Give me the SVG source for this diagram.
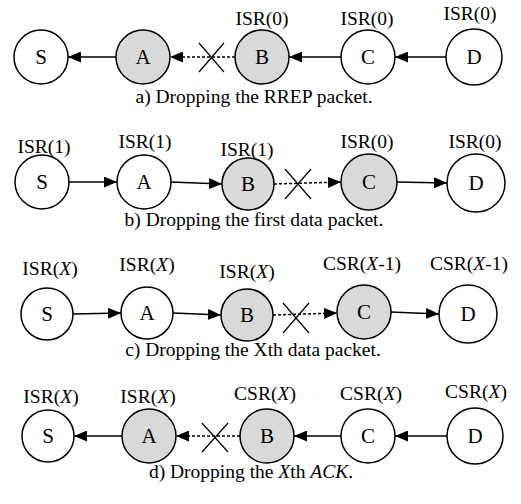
<svg xmlns="http://www.w3.org/2000/svg" width="521" height="504" viewBox="0 0 521 504">
<defs>
<marker id="ah" viewBox="0 0 13 11" refX="13" refY="5.5" markerWidth="13" markerHeight="11" markerUnits="userSpaceOnUse" orient="auto">
<path d="M0,0 L13,5.5 L0,11 z" fill="#000"/>
</marker>
</defs>
<style>
.n{fill:#fff;stroke:#000;stroke-width:1.5}
.g{fill:#d9d9d9;stroke:#000;stroke-width:1.5}
.t{font-family:"Liberation Serif","Times New Roman",serif;font-size:21px;text-anchor:middle;fill:#000}
.l{font-family:"Liberation Serif","Times New Roman",serif;font-size:19.5px;text-anchor:middle;fill:#000}
.c{font-family:"Liberation Serif","Times New Roman",serif;font-size:19.5px;text-anchor:middle;fill:#000}
.e{stroke:#000;stroke-width:1.5;fill:none;marker-end:url(#ah)}
.d{stroke:#000;stroke-width:1.5;fill:none;stroke-dasharray:3 2;marker-end:url(#ah)}
.x{stroke:#000;stroke-width:1.2;fill:none}
.i{font-style:italic}
</style>
<g id="connectors">
<!-- row a -->
<line class="e" x1="446" y1="57" x2="395" y2="57"/>
<line class="e" x1="341" y1="57" x2="289" y2="57"/>
<line class="d" x1="235" y1="57" x2="170" y2="57"/>
<line class="e" x1="116" y1="57" x2="68" y2="57"/>
<path class="x" d="M199,43 L224,72 M224,43 L199,72"/>
<!-- row b -->
<line class="e" x1="69" y1="182" x2="117" y2="182"/>
<line class="e" x1="171" y1="182" x2="222" y2="184"/>
<line class="d" x1="274" y1="184" x2="341" y2="182"/>
<line class="e" x1="397" y1="182" x2="447" y2="183"/>
<path class="x" d="M285,169 L311,199 M311,169 L285,199"/>
<!-- row c -->
<line class="e" x1="73" y1="314" x2="121" y2="313"/>
<line class="e" x1="173" y1="313" x2="221" y2="315"/>
<line class="d" x1="273" y1="315" x2="337" y2="313"/>
<line class="e" x1="391" y1="312" x2="439" y2="314"/>
<path class="x" d="M283,303 L309,333 M309,303 L283,333"/>
<!-- row d -->
<line class="e" x1="447" y1="436" x2="395" y2="436"/>
<line class="e" x1="341" y1="436" x2="294" y2="436"/>
<line class="d" x1="240" y1="436" x2="176" y2="436"/>
<line class="e" x1="122" y1="436" x2="74" y2="436"/>
<path class="x" d="M202,423 L228,452 M228,423 L202,452"/>
</g>
<g id="row-a">
<g id="a-S"><circle class="n" cx="41" cy="57" r="27"/><text class="t" x="41" y="64">S</text></g>
<g id="a-A"><circle class="g" cx="143" cy="57" r="27"/><text class="t" x="143" y="64">A</text></g>
<g id="a-B"><circle class="g" cx="262" cy="57" r="27"/><text class="t" x="262" y="64">B</text><text class="l" x="262" y="25">ISR(0)</text></g>
<g id="a-C"><circle class="n" cx="368" cy="57" r="27"/><text class="t" x="368" y="64">C</text><text class="l" x="367" y="25">ISR(0)</text></g>
<g id="a-D"><circle class="n" cx="474" cy="57" r="28"/><text class="t" x="474" y="64">D</text><text class="l" x="470" y="20">ISR(0)</text></g>
<text class="c" x="254" y="103">a) Dropping the RREP packet.</text>
</g>
<g id="row-b">
<g id="b-S"><circle class="n" cx="42" cy="182" r="27"/><text class="t" x="42" y="189">S</text><text class="l" x="44" y="153">ISR(1)</text></g>
<g id="b-A"><circle class="n" cx="144" cy="182" r="27"/><text class="t" x="144" y="189">A</text><text class="l" x="145" y="148">ISR(1)</text></g>
<g id="b-B"><circle class="g" cx="248" cy="184" r="26"/><text class="t" x="248" y="191">B</text><text class="l" x="247" y="156">ISR(1)</text></g>
<g id="b-C"><circle class="g" cx="369" cy="182" r="28"/><text class="t" x="369" y="189">C</text><text class="l" x="367" y="148">ISR(0)</text></g>
<g id="b-D"><circle class="n" cx="476" cy="183" r="29"/><text class="t" x="476" y="190">D</text><text class="l" x="475" y="148">ISR(0)</text></g>
<text class="c" x="254" y="226">b) Dropping the first data packet.</text>
</g>
<g id="row-c">
<g id="c-S"><circle class="n" cx="47" cy="314" r="26"/><text class="t" x="47" y="321">S</text><text class="l" x="50" y="275">ISR(<tspan class="i">X</tspan>)</text></g>
<g id="c-A"><circle class="n" cx="147" cy="313" r="26"/><text class="t" x="147" y="320">A</text><text class="l" x="147" y="271">ISR(<tspan class="i">X</tspan>)</text></g>
<g id="c-B"><circle class="g" cx="247" cy="315" r="26"/><text class="t" x="247" y="322">B</text><text class="l" x="247" y="278">ISR(<tspan class="i">X</tspan>)</text></g>
<g id="c-C"><circle class="g" cx="364" cy="312" r="27"/><text class="t" x="364" y="319">C</text><text class="l" x="362" y="270">CSR(<tspan class="i">X</tspan>-1)</text></g>
<g id="c-D"><circle class="n" cx="468" cy="314" r="29"/><text class="t" x="468" y="321">D</text><text class="l" x="469" y="270">CSR(<tspan class="i">X</tspan>-1)</text></g>
<text class="c" x="253" y="356">c) Dropping the Xth data packet.</text>
</g>
<g id="row-d">
<g id="d-S"><circle class="n" cx="48" cy="436" r="26"/><text class="t" x="48" y="443">S</text><text class="l" x="51" y="403">ISR(<tspan class="i">X</tspan>)</text></g>
<g id="d-A"><circle class="g" cx="149" cy="436" r="27"/><text class="t" x="149" y="443">A</text><text class="l" x="148" y="403">ISR(<tspan class="i">X</tspan>)</text></g>
<g id="d-B"><circle class="g" cx="267" cy="436" r="27"/><text class="t" x="267" y="443">B</text><text class="l" x="265" y="400">CSR(<tspan class="i">X</tspan>)</text></g>
<g id="d-C"><circle class="n" cx="368" cy="436" r="27"/><text class="t" x="368" y="443">C</text><text class="l" x="371" y="400">CSR(<tspan class="i">X</tspan>)</text></g>
<g id="d-D"><circle class="n" cx="475" cy="436" r="28"/><text class="t" x="475" y="443">D</text><text class="l" x="476" y="398">CSR(<tspan class="i">X</tspan>)</text></g>
<text class="c" x="251" y="478">d) Dropping the <tspan class="i">X</tspan>th <tspan class="i">ACK</tspan>.</text>
</g>
</svg>
